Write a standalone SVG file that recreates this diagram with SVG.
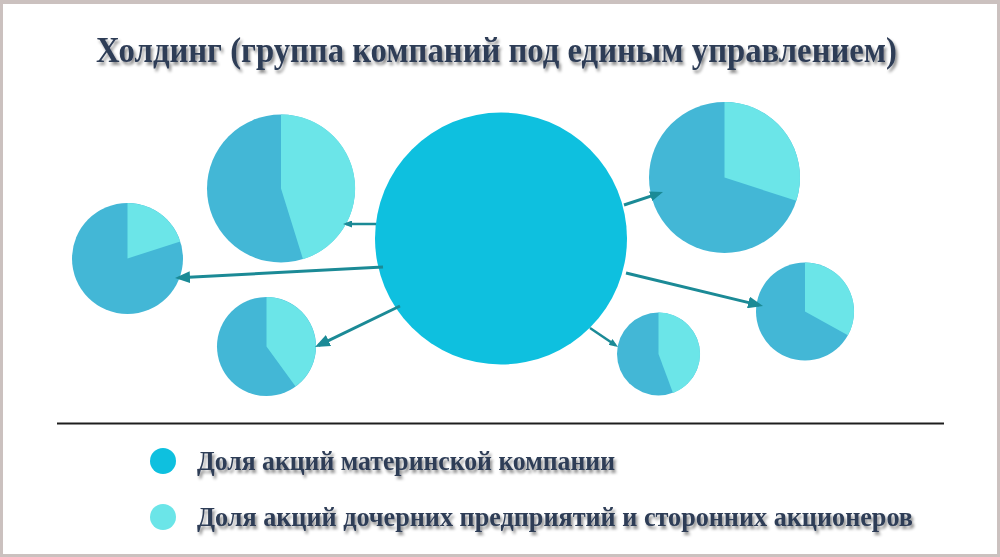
<svg xmlns="http://www.w3.org/2000/svg" width="1000" height="557" viewBox="0 0 1000 557">
  <defs>
    <filter id="shadow" filterUnits="userSpaceOnUse" x="0" y="0" width="1000" height="557">
      <feDropShadow dx="2" dy="3" stdDeviation="1.6" flood-color="#000" flood-opacity="0.45"/>
    </filter>
    <marker id="headL" markerUnits="userSpaceOnUse" markerWidth="15" markerHeight="12" refX="11" refY="6" orient="auto">
      <path d="M0,0 L15,6 L0,12 Z" fill="#1b8a96"/>
    </marker>
    <marker id="headM" markerUnits="userSpaceOnUse" markerWidth="13" markerHeight="10" refX="9" refY="5" orient="auto">
      <path d="M0,0 L13,5 L0,10 Z" fill="#1b8a96"/>
    </marker>
    <marker id="headS" markerUnits="userSpaceOnUse" markerWidth="9" markerHeight="7" refX="6" refY="3.5" orient="auto">
      <path d="M0,0 L9,3.5 L0,7 Z" fill="#1b8a96"/>
    </marker>
    <style>
      .txt { font-family: "Liberation Serif", "Times New Roman", serif; font-weight: bold; fill: #2e3d57; filter: url(#shadow); }
      .dark { fill: #43b7d6; }
      .light { fill: #6be5e8; }
      .main { fill: #0ec0df; }
      .arrow { stroke: #1b8a96; stroke-width: 3; fill: none; }
      .arrow-thin { stroke: #1b8a96; stroke-width: 2.5; fill: none; }
    </style>
  </defs>

  <rect x="0" y="0" width="1000" height="557" fill="#cbc1bf"/>
  <rect x="3" y="4" width="994" height="550" fill="#ffffff"/>

  <text id="title" class="txt" x="96" y="62" font-size="36" textLength="801" lengthAdjust="spacingAndGlyphs">Холдинг (группа компаний под единым управлением)</text>

  <g id="parent">
    <circle class="main" cx="501" cy="238.5" r="126"/>
  </g>

  <g id="pieA">
    <circle class="dark" cx="281" cy="188.5" r="74"/>
    <path class="light" d="M281,188.5 L281,114.5 A74,74 0 0 1 303,259.2 Z"/>
  </g>
  <g id="pieB">
    <circle class="dark" cx="127.5" cy="258.5" r="55.5"/>
    <path class="light" d="M127.5,258.5 L127.5,203 A55.5,55.5 0 0 1 180.3,241.4 Z"/>
  </g>
  <g id="pieC">
    <circle class="dark" cx="266.5" cy="346.5" r="49.5"/>
    <path class="light" d="M266.5,346.5 L266.5,297 A49.5,49.5 0 0 1 295.6,386.5 Z"/>
  </g>
  <g id="pieD">
    <circle class="dark" cx="724.5" cy="177.5" r="75.5"/>
    <path class="light" d="M724.5,177.5 L724.5,102 A75.5,75.5 0 0 1 796.3,200.8 Z"/>
  </g>
  <g id="pieE">
    <circle class="dark" cx="805" cy="311.5" r="49"/>
    <path class="light" d="M805,311.5 L805,262.5 A49,49 0 0 1 847.9,335.3 Z"/>
  </g>
  <g id="pieF">
    <circle class="dark" cx="658.5" cy="354" r="41.5"/>
    <path class="light" d="M658.5,354 L658.5,312.5 A41.5,41.5 0 0 1 673,392.9 Z"/>
  </g>

  <g id="connectors">
    <line class="arrow-thin" x1="376" y1="224" x2="346" y2="224" marker-end="url(#headS)"/>
    <line class="arrow" x1="383" y1="267" x2="179" y2="277.8" marker-end="url(#headL)"/>
    <line class="arrow" x1="400" y1="306" x2="318.6" y2="345.3" marker-end="url(#headL)"/>
    <line class="arrow" x1="624" y1="205" x2="659.2" y2="193.3" marker-end="url(#headM)"/>
    <line class="arrow" x1="626" y1="273" x2="759.1" y2="305.1" marker-end="url(#headL)"/>
    <line class="arrow-thin" x1="590" y1="328" x2="615.5" y2="345.3" marker-end="url(#headS)"/>
  </g>

  <line id="divider" x1="57" y1="423.5" x2="944" y2="423.5" stroke="#1e1e1e" stroke-width="2"/>

  <g id="legend1">
    <circle class="main" cx="163" cy="461" r="13"/>
    <text class="txt" x="197" y="470" font-size="28" textLength="418" lengthAdjust="spacingAndGlyphs">Доля акций материнской компании</text>
  </g>
  <g id="legend2">
    <circle class="light" cx="163" cy="517" r="13"/>
    <text class="txt" x="197" y="526" font-size="28" textLength="716" lengthAdjust="spacingAndGlyphs">Доля акций дочерних предприятий и сторонних акционеров</text>
  </g>
</svg>
